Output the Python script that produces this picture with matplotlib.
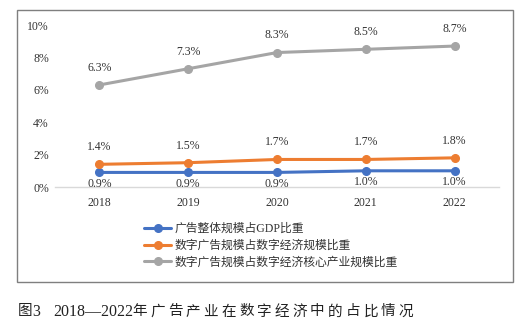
import matplotlib
matplotlib.use("Agg")
import matplotlib.pyplot as plt
from matplotlib.patches import Rectangle

years = ["2018", "2019", "2020", "2021", "2022"]
gdp_share = [0.9, 0.9, 0.9, 1.0, 1.0]
digital_share = [1.4, 1.5, 1.7, 1.7, 1.8]
core_share = [6.3, 7.3, 8.3, 8.5, 8.7]
series_names = ["广告整体规模占GDP比重", "数字广告规模占数字经济规模比重", "数字广告规模占数字经济核心产业规模比重"]
yticks = [0, 2, 4, 6, 8, 10]
caption_head = "图"
caption_num = "3"
caption_years = "2018—2022"
caption_tail = "年广告产业在数字经济中的占比情况"

fam = ["Liberation Serif", "Noto Sans CJK SC", "DejaVu Sans"]
plt.rcParams["font.family"] = fam

W, H = 521, 336
fig = plt.figure(figsize=(W / 100, H / 100), dpi=100)
ax = fig.add_axes([55 / W, 1 - 187 / H, (499 - 55) / W, (187 - 25) / H])

colors = ["#4472C4", "#ED7D31", "#A5A5A5"]
x = list(range(len(years)))
for vals, c, name in zip([gdp_share, digital_share, core_share], colors, series_names):
    ax.plot(x, vals, color=c, lw=2.2, marker="o", ms=5.5, label=name, solid_capstyle="round")

for i, v in enumerate(gdp_share):
    ax.annotate(f"{v:.1f}%", (i, v), xytext=(0, -4), textcoords="offset points",
                ha="center", va="top", fontsize=8.5, color="#333333")
for vals in (digital_share, core_share):
    for i, v in enumerate(vals):
        ax.annotate(f"{v:.1f}%", (i, v), xytext=(0, 8), textcoords="offset points",
                    ha="center", va="bottom", fontsize=8.5, color="#333333")

ax.set_xlim(-0.5, 4.5)
ax.set_ylim(0, 10)
ax.set_xticks(x)
ax.set_xticklabels(years, fontsize=8.5, color="#333333")
ax.set_yticks(yticks)
ax.set_yticklabels([f"{t}%" for t in yticks], fontsize=8.5, color="#333333")
ax.tick_params(axis="y", length=0, pad=4.5)
ax.tick_params(axis="x", length=0, pad=7)
for s in ["top", "right", "left"]:
    ax.spines[s].set_visible(False)
ax.spines["bottom"].set_color("#D9D9D9")
ax.spines["bottom"].set_linewidth(1)
ax.patch.set_alpha(0)

leg = fig.legend(loc="upper left", bbox_to_anchor=(144 / W, 1 - 223 / H), frameon=False,
                 fontsize=8.5, handlelength=2.3, handletextpad=0.3, labelspacing=0.4,
                 borderaxespad=0, borderpad=0)
for t in leg.get_texts():
    t.set_color("#333333")

fig.patches.append(Rectangle((17 / W, 1 - 282 / H), (513 - 17) / W, (282 - 10) / H,
                             transform=fig.transFigure, fill=False, ec="#7F7F7F", lw=1))

cy = 1 - 312 / H
cc = "#222222"
fig.text(18 / W, cy, caption_head, fontsize=10.5, ha="left", va="center", color=cc)
fig.text(32 / W, cy, caption_num, fontsize=11.5, ha="left", va="center", color=cc)
fig.text(53 / W, cy, caption_years, fontsize=11.5, ha="left", va="center", color=cc)
for i, ch in enumerate(caption_tail):
    fig.text((132.5 + 17.75 * i) / W, cy, ch, fontsize=10.5, ha="left", va="center", color=cc)

fig.savefig("out.png", dpi=100)
